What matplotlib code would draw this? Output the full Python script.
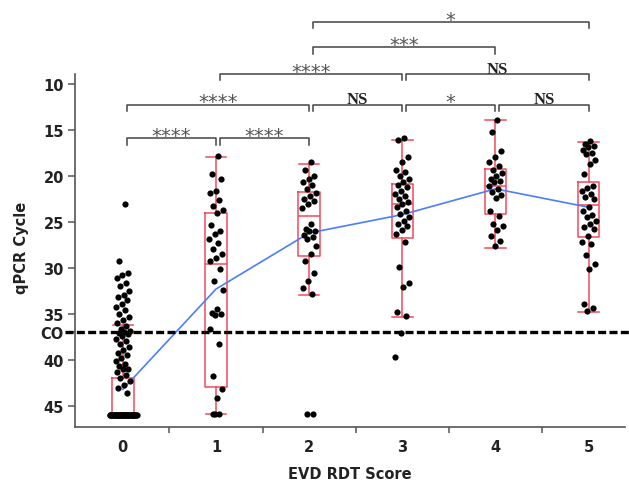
import matplotlib
matplotlib.use('Agg')
import matplotlib.pyplot as plt
import numpy as np

# ---------------- data ----------------
scores = [0, 1, 2, 3, 4, 5]
score_labels = ['0', '1', '2', '3', '4', '5']

g0 = [23.0, 29.2, 30.5, 30.8, 31.1, 31.6, 32.0, 32.5, 32.9, 33.2, 33.5, 33.9,
      34.3, 34.6, 35.0, 35.3, 35.7, 36.0, 36.3, 36.6, 36.9, 37.0, 37.1, 37.2,
      37.4, 37.7, 38.0, 38.3, 38.6, 38.9, 39.2, 39.5, 39.8, 40.1, 40.4, 40.7,
      41.0, 41.0, 41.3, 41.6, 42.0, 42.3, 42.7, 43.1, 43.6] + [46.0] * 40
g1 = [17.8, 19.8, 20.3, 21.6, 21.9, 22.6, 23.3, 23.7, 24.0, 25.3, 26.0, 26.3,
      26.9, 27.3, 27.95, 28.5, 28.9, 29.3, 30.1, 31.4, 32.4, 34.5, 34.9, 35.0,
      35.1, 36.6, 38.3, 41.7, 43.2, 44.2, 45.9, 45.9, 45.9]
g2 = [18.5, 19.4, 20.0, 20.3, 20.7, 21.0, 21.4, 21.8, 22.15, 22.5, 22.7, 23.1,
      23.5, 25.2, 25.8, 26.0, 26.0, 26.4, 26.6, 26.9, 27.6, 28.5, 29.2, 30.6,
      31.4, 32.2, 32.8, 45.9, 45.9]
g3 = [15.9, 16.1, 17.9, 18.5, 19.3, 19.6, 20.0, 20.3, 20.7, 21.0, 21.2, 21.6,
      22.0, 22.2, 22.5, 22.8, 23.1, 23.4, 23.8, 24.1, 24.5, 24.9, 25.2, 25.4,
      25.9, 26.3, 27.2, 29.9, 31.6, 32.1, 34.8, 35.2, 37.1, 39.7]
g4 = [13.9, 15.2, 17.25, 17.98, 18.5, 18.9, 19.4, 19.7, 20.0, 20.3, 20.5, 20.7,
      21.1, 21.4, 21.7, 22.1, 22.4, 23.8, 24.3, 25.2, 25.4, 25.9, 26.5, 27.1, 27.6]
g5 = [16.2, 16.5, 16.7, 16.9, 17.2, 17.5, 17.6, 18.3, 18.7, 19.8, 21.1, 21.3,
      21.6, 22.0, 22.3, 22.5, 23.4, 23.8, 24.2, 24.5, 24.9, 25.2, 25.5, 25.8,
      26.5, 27.2, 27.4, 28.6, 29.6, 30.1, 33.9, 34.4, 34.7]
groups_data = [g0, g1, g2, g3, g4, g5]

# box statistics (whisker low/high, quartiles, median)
whis_low = [36.2, 17.9, 18.7, 16.1, 13.9, 16.3]
q_low = [42.0, 24.0, 21.7, 20.9, 19.25, 20.7]
medians = [46.0, 29.6, 24.4, 23.1, 21.1, 23.2]
q_high = [46.0, 42.9, 28.75, 26.7, 24.15, 26.6]
whis_high = [46.0, 45.9, 32.9, 35.3, 27.8, 34.8]

means = [43.2, 32.3, 26.2, 24.2, 21.4, 23.4]

cutoff = 37
ytick_vals = [10, 15, 20, 25, 30, 35, 37, 40, 45]
ytick_labels = ['10', '15', '20', '25', '30', '35', 'CO', '40', '45']

comparisons = [(0, 1, '****'), (1, 2, '****'), (0, 2, '****'), (2, 3, 'NS'),
               (3, 4, '*'), (4, 5, 'NS'), (1, 3, '****'), (3, 5, 'NS'),
               (2, 4, '***'), (2, 5, '*')]

# ---------------- layout ----------------
bracket_levels = [15.9, 15.9, 12.25, 12.25, 12.25, 12.25, 8.9, 8.9, 6.0, 3.25]
RED = '#F24A5C'
BLUE = '#4A7DFF'

fig = plt.figure(figsize=(6.29, 4.81), dpi=100)
ax = fig.add_axes([75 / 629, 1 - 428 / 481, 550 / 629, 353 / 481])

stats = []
for i in range(len(scores)):
    stats.append(dict(med=medians[i], q1=q_low[i], q3=q_high[i],
                      whislo=whis_low[i], whishi=whis_high[i], fliers=[]))
lp = dict(color=RED, linewidth=1.1)
ax.bxp(stats, positions=scores, widths=0.23, capwidths=0.22, showfliers=False,
       boxprops=lp, whiskerprops=lp, capprops=lp, medianprops=lp,
       manage_ticks=False, zorder=2)

ax.plot(scores, means, color=BLUE, linewidth=1.2, zorder=3)

phi = 0.6180339887
for i, g in enumerate(groups_data):
    n = len(g)
    xs = []
    for k, v in enumerate(g):
        frac = ((k + 1) * phi) % 1.0 - 0.5
        w = 0.30 if v >= 45.8 and i == 0 else (0.10 if v >= 45.8 else 0.16)
        xs.append(scores[i] + frac * w)
    ax.scatter(xs, g, s=20, color='black', linewidths=0, zorder=4)

ax.axhline(cutoff, xmin=-0.018, xmax=1.01, color='black', linewidth=2.4,
           dashes=(2.4, 1.0), clip_on=False, zorder=5)

ax.set_xlim(-0.513, 5.39)
ax.set_ylim(47.3, 8.91)

for s in ['top', 'right']:
    ax.spines[s].set_visible(False)
for s in ['left', 'bottom']:
    ax.spines[s].set_color('#555555')
    ax.spines[s].set_linewidth(1.2)

tfont = dict(family='DejaVu Sans', weight='bold', size=10.5)
ax.set_yticks(ytick_vals)
ax.set_yticklabels(ytick_labels, fontdict=tfont, color='#222222')
ax.set_xticks(scores)
ax.set_xticklabels(score_labels, fontdict=tfont, color='#222222')
ax.set_xticks([s + 0.5 for s in scores[:-1]], minor=True)
ax.tick_params(axis='x', which='major', length=0, pad=9)
ax.tick_params(axis='x', which='minor', length=4, width=1.1, color='#555555')
ax.tick_params(axis='y', which='major', length=5, width=1.1, color='#555555', pad=3)

ax.set_xlabel('EVD RDT Score', fontdict=tfont, color='#222222', labelpad=8)
fig.text(22 / 629, 1 - 248 / 481, 'qPCR Cycle', rotation=90, ha='center',
         va='center', **tfont, color='#222222')

leg = 0.7
for (a, b, lab), lvl in zip(comparisons, bracket_levels):
    x1 = scores[a] + 0.04
    x2 = scores[b]
    ax.plot([x1, x1, x2, x2], [lvl + leg, lvl, lvl, lvl + leg], color='#444444',
            linewidth=1.1, clip_on=False, zorder=6)
    if lab == 'NS':
        ax.annotate(lab, xy=((x1 + x2) / 2, lvl), xytext=(0, 1),
                    textcoords='offset points', ha='center', va='baseline',
                    family='Liberation Serif', weight='bold', size=12,
                    color='#222222', annotation_clip=False)
    else:
        ax.annotate(lab, xy=((x1 + x2) / 2, lvl), xytext=(0, -2),
                    textcoords='offset points', ha='center', va='baseline',
                    family='DejaVu Sans', size=14, color='#555555',
                    annotation_clip=False)

fig.savefig('out.png', dpi=100)
